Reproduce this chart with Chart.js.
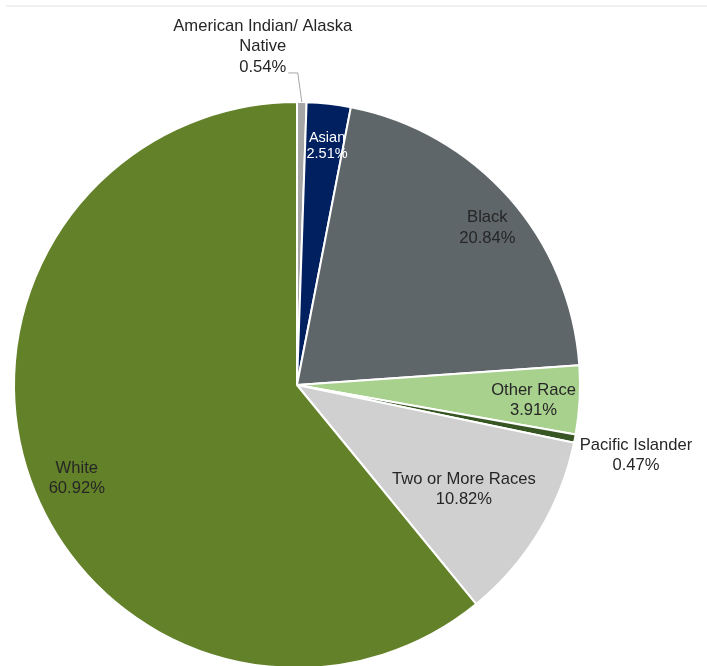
<!DOCTYPE html>
<html>
<head>
<meta charset="utf-8">
<script src="https://cdn.jsdelivr.net/npm/chart.js@4"></script>
<style>
    html, body { margin: 0; padding: 0; background: #fff; overflow: hidden; }
    #wrap { position: relative; width: 707px; height: 680px; }
</style>
</head>
<body>
<div id="wrap"><canvas id="raceChart"></canvas></div>
<script>
// Race breakdown (percent of population)
const categories = ['American Indian/ Alaska Native', 'Asian', 'Black', 'Other Race', 'Pacific Islander', 'Two or More Races', 'White'];
const labelLines = [['American Indian/ Alaska', 'Native'], ['Asian'], ['Black'], ['Other Race'], ['Pacific Islander'], ['Two or More Races'], ['White']];
const shares = [0.54, 2.51, 20.84, 3.91, 0.47, 10.82, 60.92];
const sliceColors = ['#A6A6A6', '#002060', '#5F6669', '#A9D18E', '#375623', '#D0D0D0', '#628128'];

// label placement: fraction of radius along the slice mid-angle, plus pixel nudge
const labelRadius = [1.2, 0.85, 0.87, 0.83, 1.22, 0.69, 0.845];
const labelNudge = [[-40, 1], [3, 0], [6, 6], [2, 3], [0, 5], [0, 3], [5, 13]];

const topRule = {
    id: 'topRule',
    beforeDraw(chart) {
        const ctx = chart.ctx;
        ctx.save();
        ctx.fillStyle = '#F0F0F0';
        ctx.fillRect(6, 5, chart.width - 6, 2);
        ctx.restore();
    }
};

const sliceLabels = {
    id: 'sliceLabels',
    afterDraw(chart) {
        const ctx = chart.ctx;
        const arcs = chart.getDatasetMeta(0).data;
        ctx.save();
        ctx.textAlign = 'center';
        ctx.textBaseline = 'middle';
        arcs.forEach((arc, i) => {
            const mid = (arc.startAngle + arc.endAngle) / 2;
            const r = arc.outerRadius * labelRadius[i];
            const cx = arc.x + Math.cos(mid) * r + labelNudge[i][0];
            const cy = arc.y + Math.sin(mid) * r + labelNudge[i][1];
            const lines = labelLines[i].concat([shares[i].toFixed(2) + '%']);
            const small = i === 1;
            ctx.font = (small ? '14.5px' : '16.6px') + ' "Liberation Sans", Arial, sans-serif';
            ctx.fillStyle = small ? '#FFFFFF' : '#262626';
            const lh = small ? 16 : 20.5;
            const y0 = cy - (lines.length - 1) * lh / 2;
            lines.forEach((t, k) => ctx.fillText(t, cx, y0 + k * lh));

            // leader line for the thin top slice
            if (i === 0) {
                const lastW = ctx.measureText(lines[lines.length - 1]).width;
                const lx = cx + lastW / 2 + 2;
                const ly = y0 + (lines.length - 1) * lh + 6;
                const ex = arc.x + Math.cos(mid) * arc.outerRadius;
                const ey = arc.y + Math.sin(mid) * arc.outerRadius;
                ctx.strokeStyle = '#A6A6A6';
                ctx.lineWidth = 1;
                ctx.beginPath();
                ctx.moveTo(lx, ly);
                ctx.lineTo(ex - 4, ly);
                ctx.lineTo(ex, ey);
                ctx.stroke();
            }
        });
        ctx.restore();
    }
};

new Chart(document.getElementById('raceChart'), {
    type: 'pie',
    data: {
        labels: categories,
        datasets: [{
            data: shares,
            backgroundColor: sliceColors,
            borderColor: '#FFFFFF',
            borderWidth: 2
        }]
    },
    options: {
        responsive: true,
        maintainAspectRatio: false,
        animation: false,
        events: [],
        layout: { padding: { left: 13, right: 126, top: 101, bottom: 11 } },
        plugins: {
            legend: { display: false },
            tooltip: { enabled: false }
        }
    },
    plugins: [topRule, sliceLabels]
});
</script>
</body>
</html>
